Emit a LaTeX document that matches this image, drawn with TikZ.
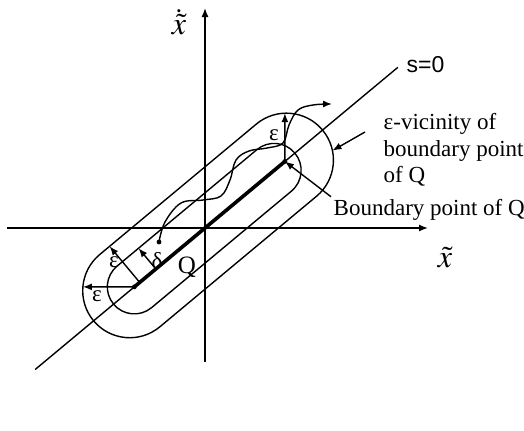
\documentclass[tikz,border=0pt]{standalone}
\usepackage{mathptmx}
\usepackage{fontspec}
\setmainfont{Liberation Serif}
\newfontfamily\sansfont{Liberation Sans}
\usetikzlibrary{arrows.meta}

\begin{document}
\begin{tikzpicture}[x=0.5pt,y=0.5pt,line width=0.7pt,
  arr/.style={-{Latex[length=4.5pt,width=3.5pt]}},
  lbl/.style={font=\fontsize{11.5}{13.3}\selectfont,inner sep=1pt},
  axlbl/.style={font=\fontsize{16}{18}\selectfont,inner sep=0pt}]
\useasboundingbox (-205,-202) rectangle (319,228);
% axes
\coordinate (xl) at (-198,0);
\coordinate (xr) at (223,0);
\coordinate (yb) at (0,-134);
\coordinate (yt) at (0,220);
\draw[arr] (xl) -- (xr);
\draw[arr] (yb) -- (yt);
\node[axlbl] (lx) at (240,-30) {$\tilde{x}$};
\node[axlbl] (ldx) at (-26,206) {$\dot{\tilde{x}}$};
% sliding line and vicinities
\begin{scope}[rotate=39.8]
\coordinate (sb) at (-221,0);
\coordinate (st) at (251,0);
\coordinate (A) at (-92,0);
\coordinate (B) at (104,0);
\draw (-98,47) -- (106,47) arc[start angle=90,end angle=-90,radius=47]
  -- (-98,-47) arc[start angle=270,end angle=90,radius=47] -- cycle;
\draw (-92,27) -- (90,27) arc[start angle=90,end angle=-90,radius=27]
  -- (-92,-27) arc[start angle=270,end angle=90,radius=27] -- cycle;
\coordinate (e1) at (-85,0);
\coordinate (e1t) at (-85,47);
\coordinate (d1) at (-64,0);
\coordinate (d1t) at (-64,27);
\coordinate (e2t) at (-131.5,32.9);
\coordinate (e3t) at (134.9,37.1);
\coordinate (vhead) at (147.5,-22.1);
\end{scope}
\draw (sb) -- (st);
\node[lbl,anchor=west] (s0) at (199,163) {\sansfont s=0};
\draw[line width=1.8pt] (A) -- (B);
\fill (A) circle (1.2pt);
\draw[arr] (e1) -- (e1t);
\draw[arr] (d1) -- (d1t);
\draw[arr] (A) -- (e2t);
\draw[arr] (B) -- (e3t);
% trajectory
\coordinate (p0) at (-46,-14);
\draw[arr] plot[smooth,tension=0.6] coordinates {(-46,-14) (-40,6) (-24,25)
  (-2,28) (16,32) (25,48) (31,68) (44,77) (62,80) (78,85) (84,103) (93,118)
  (108,123) (127,124)};
\fill (p0) circle (1.2pt);
% labels
\node[lbl] (le1) at (-91,-34) {ε};
\node[lbl] (le2) at (-108,-68) {ε};
\node[lbl] (ld) at (-48,-33) {δ};
\node[lbl,font=\fontsize{12.5}{14}\selectfont] (lq) at (-18,-39) {Q};
\node[lbl] (le3) at (69,93) {ε};
\node[lbl,anchor=west] (bpt) at (126,18) {Boundary point of Q};
\draw[arr] (bpt.north west) -- (B);
\fill (B) circle (1.2pt);
\node[lbl,anchor=west,align=left] (vic) at (176,78) {ε-vicinity of\\boundary point\\of Q};
\coordinate (vtail) at (160,96);
\draw[arr] (vtail) -- (vhead);
\end{tikzpicture}
\end{document}
